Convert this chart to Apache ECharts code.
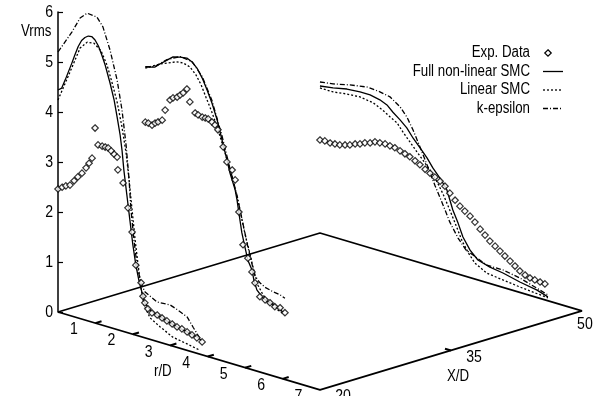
<!DOCTYPE html>
<html>
<head>
<meta charset="utf-8">
<script src="https://cdn.jsdelivr.net/npm/echarts@6/dist/echarts.min.js"></script>
<style>
  html, body { margin: 0; padding: 0; background: #fff; }
  #chart { width: 600px; height: 396px; }
</style>
</head>
<body>
<div id="chart"></div>
<script>
// Radial Vrms profiles at three downstream stations, shown on an oblique 3-D base.

// axis ranges and ticks
const rRange = [0, 7];          // r/D
const xRange = [20, 50];        // X/D
const vTicks = [0, 1, 2, 3, 4, 5, 6];
const rTicks = [1, 2, 3, 4, 5, 6, 7];
const xTicks = [20, 35, 50];

// ---- X/D = 20 : [r/D, Vrms] ----
const exp20 = [[0,2.46],[0.11,2.52],[0.21,2.57],[0.32,2.61],[0.43,2.72],[0.53,2.82],[0.64,2.92],[0.75,3.05],[0.83,3.16],[0.91,3.28],[0.99,3.90],[1.07,3.58],[1.18,3.58],[1.26,3.58],[1.34,3.58],[1.42,3.54],[1.50,3.49],[1.58,3.45],[1.60,3.20],[1.74,2.97],[1.87,2.50],[1.98,2.04],[2.08,1.40],[2.22,1.08],[2.27,0.82],[2.32,0.70],[2.40,0.60],[2.51,0.54],[2.65,0.53],[2.78,0.50],[2.91,0.47],[3.05,0.44],[3.18,0.41],[3.31,0.40],[3.45,0.37],[3.58,0.34],[3.71,0.31],[3.85,0.26]];
const full20 = [[0,4.44],[0.10,4.50],[0.19,4.68],[0.28,4.87],[0.37,5.06],[0.45,5.24],[0.54,5.43],[0.63,5.57],[0.72,5.65],[0.81,5.70],[0.90,5.71],[0.99,5.66],[1.08,5.56],[1.17,5.40],[1.26,5.22],[1.39,4.89],[1.50,4.57],[1.58,4.25],[1.66,3.91],[1.71,3.62],[1.76,3.23],[1.84,2.75],[1.92,2.27],[2.00,1.79],[2.08,1.40],[2.16,1.12],[2.24,0.90],[2.32,0.70],[2.46,0.59],[2.65,0.53],[2.91,0.47],[3.18,0.41],[3.45,0.37],[3.71,0.33],[3.85,0.28]];
const lin20 = [[0,4.24],[0.32,4.87],[0.59,5.41],[0.78,5.57],[0.96,5.59],[1.15,5.48],[1.31,5.23],[1.44,4.92],[1.58,4.55],[1.71,4.08],[1.82,3.58],[1.90,3.06],[1.98,2.48],[2.06,1.90],[2.14,1.42],[2.22,0.97],[2.30,0.65],[2.46,0.43],[2.73,0.31],[3.07,0.18],[3.45,0.13],[3.79,0.08]];
const keps20 = [[0,5.20],[0.37,5.68],[0.59,6.01],[0.78,6.15],[1.04,6.13],[1.20,5.97],[1.39,5.55],[1.58,4.99],[1.71,4.42],[1.82,3.74],[1.90,3.06],[1.95,2.47],[2.03,1.89],[2.11,1.41],[2.22,1.07],[2.32,0.92],[2.65,0.79],[2.99,0.81],[3.21,0.75],[3.45,0.67],[3.61,0.50],[3.79,0.32]];

// ---- X/D = 30 ----
const exp30 = [[0,3.27],[0.08,3.27],[0.18,3.25],[0.26,3.31],[0.34,3.35],[0.45,3.41],[0.53,3.63],[0.66,3.86],[0.74,3.92],[0.85,3.96],[0.93,4.02],[1.01,4.08],[1.11,4.18],[1.19,3.94],[1.33,3.75],[1.41,3.73],[1.52,3.71],[1.60,3.71],[1.68,3.71],[1.78,3.67],[1.86,3.63],[1.94,3.55],[2.08,3.24],[2.18,2.96],[2.32,2.83],[2.40,2.65],[2.50,2.03],[2.61,1.40],[2.74,1.16],[2.85,0.91],[2.93,0.71],[3.06,0.46],[3.20,0.43],[3.33,0.40],[3.46,0.35],[3.60,0.36],[3.73,0.29]];
const full30 = [[0,4.37],[0.13,4.40],[0.26,4.43],[0.39,4.52],[0.58,4.64],[0.74,4.74],[0.93,4.78],[1.11,4.80],[1.25,4.75],[1.38,4.66],[1.52,4.49],[1.65,4.28],[1.78,4.05],[1.92,3.74],[2.05,3.37],[2.18,3.00],[2.26,2.76],[2.40,2.45],[2.45,2.26],[2.50,2.01],[2.58,1.63],[2.66,1.37],[2.74,1.12],[2.85,0.95],[2.90,0.76],[2.98,0.58],[3.12,0.47],[3.28,0.40],[3.46,0.39],[3.68,0.29]];
const lin30 = [[0,4.35],[0.18,4.43],[0.39,4.52],[0.61,4.59],[0.82,4.66],[1.01,4.68],[1.19,4.64],[1.35,4.52],[1.49,4.35],[1.62,4.13],[1.76,3.90],[1.92,3.60],[2.05,3.31],[2.21,2.95],[2.34,2.64],[2.45,2.32],[2.53,2.08],[2.61,1.80],[2.69,1.55],[2.77,1.33],[2.85,1.09],[2.93,0.87],[3.01,0.68],[3.15,0.51],[3.33,0.40],[3.55,0.30],[3.73,0.25]];
const keps30 = [[0,4.38],[0.26,4.44],[0.58,4.65],[0.93,4.79],[1.25,4.76],[1.52,4.52],[1.78,4.10],[2.05,3.45],[2.26,2.85],[2.45,2.35],[2.60,1.85],[2.72,1.45],[2.84,1.10],[2.92,0.86],[3.06,0.74],[3.20,0.68],[3.41,0.64],[3.60,0.62],[3.73,0.58]];

// ---- X/D = 50 ----
const exp50 = [[0,1.86],[0.13,1.87],[0.27,1.86],[0.40,1.87],[0.53,1.88],[0.67,1.91],[0.80,1.94],[0.94,1.99],[1.07,2.02],[1.20,2.07],[1.34,2.10],[1.47,2.15],[1.60,2.16],[1.74,2.17],[1.87,2.16],[2.00,2.15],[2.14,2.12],[2.27,2.09],[2.40,2.06],[2.54,2.01],[2.67,1.96],[2.81,1.90],[2.94,1.85],[3.07,1.80],[3.21,1.75],[3.34,1.68],[3.47,1.57],[3.61,1.46],[3.74,1.37],[3.87,1.30],[4.01,1.23],[4.14,1.14],[4.28,1.03],[4.41,0.94],[4.54,0.85],[4.68,0.78],[4.81,0.71],[4.94,0.64],[5.08,0.57],[5.21,0.50],[5.34,0.43],[5.48,0.38],[5.61,0.35],[5.74,0.34],[5.88,0.33],[6.01,0.32]];
const full50 = [[0,2.94],[0.35,2.98],[0.72,3.04],[1.07,3.06],[1.34,3.06],[1.60,3.02],[1.79,2.96],[1.95,2.85],[2.14,2.74],[2.32,2.62],[2.49,2.45],[2.67,2.30],[2.86,2.14],[3.02,1.97],[3.21,1.81],[3.39,1.62],[3.55,1.25],[3.69,1.02],[3.82,0.77],[4.01,0.55],[4.22,0.40],[4.54,0.33],[4.89,0.29],[5.34,0.21],[5.80,0.15],[6.09,0.08]];
const lin50 = [[0,2.90],[0.35,2.90],[0.72,2.94],[1.07,2.96],[1.42,2.92],[1.68,2.83],[1.87,2.74],[2.06,2.66],[2.22,2.51],[2.40,2.36],[2.59,2.20],[2.75,2.07],[2.94,1.91],[3.13,1.72],[3.29,1.51],[3.47,1.23],[3.63,0.97],[3.79,0.70],[3.95,0.50],[4.14,0.32],[4.46,0.19],[4.89,0.15],[5.34,0.11],[6.09,0.06]];
const keps50 = [[0,3.02],[0.35,3.06],[0.80,3.14],[1.26,3.20],[1.60,3.18],[1.87,3.14],[2.14,3.00],[2.32,2.84],[2.49,2.61],[2.67,2.32],[2.86,2.00],[3.07,1.64],[3.29,1.29],[3.47,0.99],[3.69,0.72],[3.90,0.53],[4.09,0.47],[4.46,0.35],[4.89,0.35],[5.34,0.29],[6.09,0.12]];

const stations = [
  { x: 20, exp: exp20, full: full20, lin: lin20, keps: keps20 },
  { x: 30, exp: exp30, full: full30, lin: lin30, keps: keps30 },
  { x: 50, exp: exp50, full: full50, lin: lin50, keps: keps50 }
];

const NAMES = { exp: 'Exp. Data', full: 'Full non-linear SMC', lin: 'Linear SMC', keps: 'k-epsilon' };
const FONT = "'Liberation Sans', Arial, sans-serif";
const NARROW = 0.83;   // horizontal squeeze for a condensed look
const DASH = { full: 'solid', lin: [2, 2], keps: [5, 2, 1, 2] };
const LINE_W = 1.3;
const DIAMOND = { size: 6.5, border: 1.2 };

// oblique projection of (r/D, X/D, Vrms) onto the plotting plane (u, w);
// u is measured in r/D units across, w in Vrms units up
const STEP_R = [1, -0.2228];
const STEP_X = [0.2333, 0.05267];
function proj(r, x, v) {
  const dx = x - xRange[0];
  return [r * STEP_R[0] + dx * STEP_X[0], v + r * STEP_R[1] + dx * STEP_X[1]];
}

const series = [];

// base frame of the r/D - X/D plane
const frame = [[rRange[0], xRange[0]], [rRange[1], xRange[0]], [rRange[1], xRange[1]], [rRange[0], xRange[1]], [rRange[0], xRange[0]]];
series.push({
  type: 'line', silent: true, clip: false, symbol: 'none', z: 2,
  data: frame.map(([r, x]) => proj(r, x, 0)),
  lineStyle: { color: '#000', width: 1.8 }
});

// tick marks on the r/D and X/D edges
const tickLines = rTicks.filter(r => r < rRange[1]).map(r => ({ coords: [proj(r, xRange[0], 0), proj(r, xRange[0] + 0.7, 0)] }))
  .concat(xTicks.filter(x => x > xRange[0] && x < xRange[1]).map(x => ({ coords: [proj(rRange[1], x, 0), proj(rRange[1] - 0.16, x, 0)] })));
series.push({
  type: 'lines', coordinateSystem: 'cartesian2d', silent: true, clip: false, z: 2,
  data: tickLines, lineStyle: { color: '#000', width: 2, opacity: 1 }
});

// tick labels, drawn as squeezed text anchored at projected points
function tickLabelSeries(points, dx, dy, align) {
  return {
    type: 'custom', silent: true, clip: false, z: 5,
    data: points,
    renderItem: (params, api) => {
      const p = api.coord([api.value(0), api.value(1)]);
      return {
        type: 'text', x: p[0] + dx, y: p[1] + dy, scaleX: NARROW,
        style: { text: String(api.value(2)), align: align, verticalAlign: 'middle', fontSize: 17, fontFamily: FONT, fill: '#000' }
      };
    }
  };
}
series.push(tickLabelSeries(vTicks.map(v => proj(0, xRange[0], v).concat([v])), -5, 0, 'right'));
series.push(tickLabelSeries(rTicks.map(r => proj(r, xRange[0], 0).concat([r])), -21.5, 6.5, 'center'));
series.push(tickLabelSeries(xTicks.filter(x => x < xRange[1]).map(x => proj(rRange[1], x, 0).concat([x])), 23, 6.5, 'center'));
series.push(tickLabelSeries([proj(rRange[1], xRange[1], 0).concat([xRange[1]])], 3, 13, 'center'));

// model curves and measurements for each station
stations.forEach(st => {
  ['full', 'lin', 'keps'].forEach(k => {
    series.push({
      type: 'line', name: NAMES[k], clip: false, silent: true, symbol: 'none', showSymbol: false, z: 3,
      data: st[k].map(([r, v]) => proj(r, st.x, v)),
      lineStyle: { color: '#000', width: LINE_W, type: DASH[k] }
    });
  });
  series.push({
    type: 'scatter', name: NAMES.exp, clip: false, silent: true, z: 4,
    symbol: 'diamond', symbolSize: DIAMOND.size,
    data: st.exp.map(([r, v]) => proj(r, st.x, v)),
    itemStyle: { color: '#fff', borderColor: '#000', borderWidth: DIAMOND.border }
  });
});

// key: right-aligned names with a line / point sample to their right
const KEY = { textRight: 530, sampleX: [543, 563], diamondX: 548, top: 53, step: 18.5 };
const keyItems = [];
['exp', 'full', 'lin', 'keps'].forEach((k, i) => {
  const y = KEY.top + i * KEY.step;
  keyItems.push({
    type: 'text', x: KEY.textRight, y: y, scaleX: NARROW,
    style: { text: NAMES[k], align: 'right', verticalAlign: 'middle', fontSize: 16, fontFamily: FONT, fill: '#000' }
  });
  if (k === 'exp') {
    const h = DIAMOND.size / 2;
    keyItems.push({
      type: 'polygon',
      shape: { points: [[KEY.diamondX, y - h], [KEY.diamondX + h, y], [KEY.diamondX, y + h], [KEY.diamondX - h, y]] },
      style: { fill: '#fff', stroke: '#000', lineWidth: DIAMOND.border }
    });
  } else {
    keyItems.push({
      type: 'line',
      shape: { x1: KEY.sampleX[0], y1: y, x2: KEY.sampleX[1], y2: y },
      style: { stroke: '#000', lineWidth: LINE_W, lineDash: DASH[k] === 'solid' ? null : DASH[k] }
    });
  }
});

const titles = [
  { text: 'Vrms', x: 21, y: 32 },
  { text: 'r/D', x: 154, y: 372 },
  { text: 'X/D', x: 447, y: 377 }
].map(t => ({
  type: 'text', x: t.x, y: t.y, scaleX: NARROW,
  style: { text: t.text, align: 'left', verticalAlign: 'middle', fontSize: 16, fontFamily: FONT, fill: '#000' }
}));

const chart = echarts.init(document.getElementById('chart'), null, { renderer: 'canvas' });
chart.setOption({
  animation: false,
  backgroundColor: '#fff',
  textStyle: { fontFamily: FONT },
  grid: { left: 58, top: 12, width: 524, height: 300, containLabel: false },
  xAxis: { type: 'value', min: 0, max: 14, show: false },
  yAxis: {
    type: 'value', min: 0, max: 6, interval: 1,
    axisLine: { show: true, lineStyle: { color: '#000', width: 1.5 } },
    axisTick: { show: true, inside: true, length: 5, lineStyle: { color: '#000', width: 1.2 } },
    axisLabel: { show: false },
    splitLine: { show: false }
  },
  graphic: keyItems.concat(titles),
  series: series
});
</script>
</body>
</html>
